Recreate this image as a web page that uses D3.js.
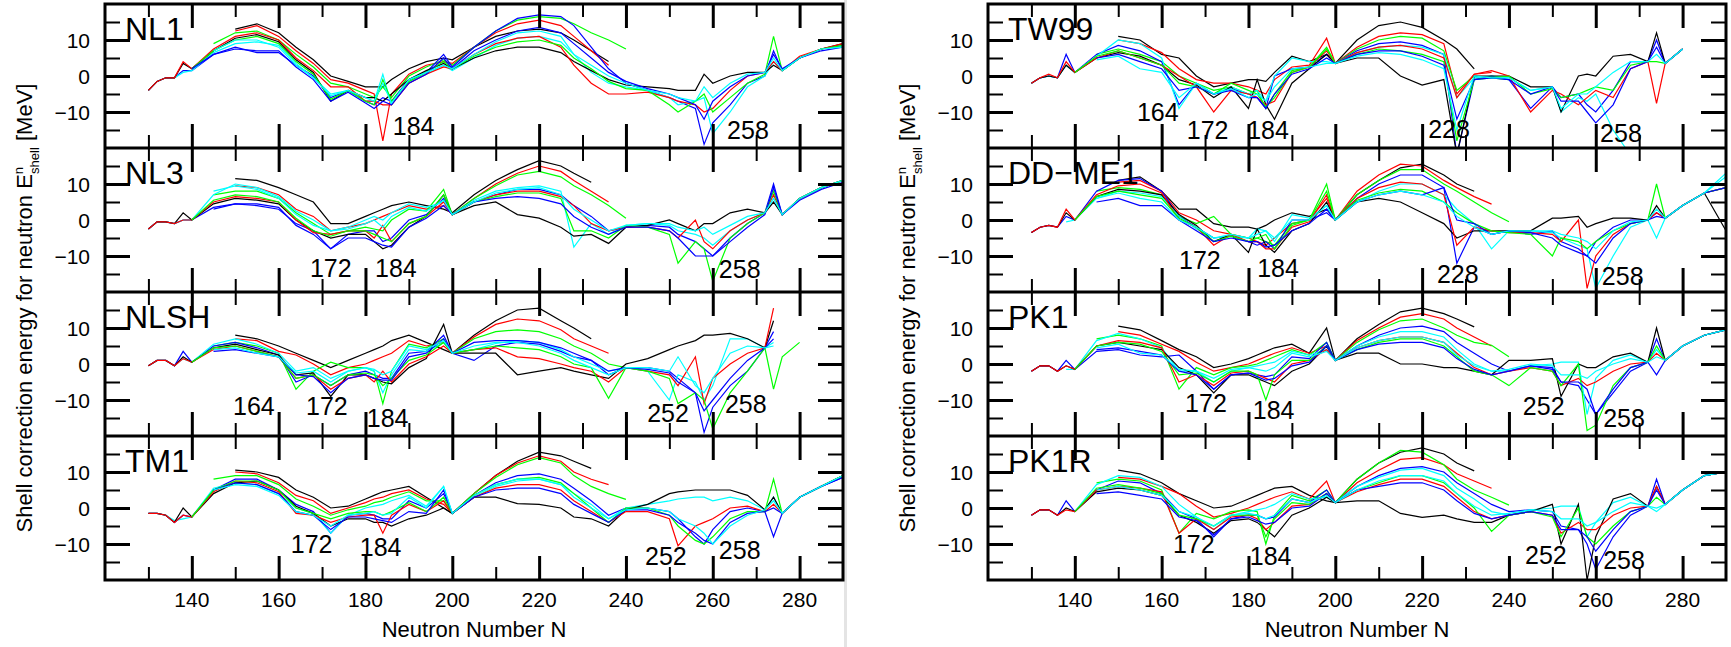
<!DOCTYPE html>
<html><head><meta charset="utf-8">
<script src="https://cdn.jsdelivr.net/npm/d3@7"></script>
<style>
body{margin:0;background:#fff}
text{font-family:"Liberation Sans",Arial,Helvetica,sans-serif;fill:#000}
</style>
</head><body>
<svg id="chart" width="1731" height="647"></svg>
<script>
const n = null;
// Neutron numbers shared by every isotopic chain
const neutronN = [130,132,134,136,138,140, 145,150,155,160,164,168, 172,176,180,182,184,186, 190,194,198,200, 205,210,215,220,225,228, 232,236,240,245,250,252, 256,258,260,264,268,272, 274,276,280,285,290];

const panelNames = ["NL1","NL3","NLSH","TM1","TW99","DD\u2212ME1","PK1","PK1R"];
const chainColors = ["#000000","#ff0000","#00ff00","#0000ff","#00ffff"];

const NL1 = [
[n,n,n,n,n,n, n,13,14.5,12,8,4.5, 0,-1.5,-3,-3,-3,-1, 2,4,5,4.5, 8,11,12.5,13,12,10, 7,4,n,n,n,n, n,n,n,n,n,n, n,n,n,n,n],
[n,n,n,n,n,n, n,12.5,14,11,7,3.5, -1,-2,-4,-5,-18,-5, 0.5,3,4,3.5, 8,12,14.5,15.5,14,11, 7,3,n,n,n,n, n,n,n,n,n,n, n,n,n,n,n],
[n,n,n,n,n,n, 9,12,12.5,10,6,2.5, -2,-3,-5,-6,-3,-6, 0,2.5,4.5,3, 8,12.5,15.5,16.5,16,14.5, 12,10,7.5,n,n,n, n,n,n,n,n,n, n,n,n,n,n],
[-4,-1.5,-0.5,-0.5,1.5,1.5, 6,8,6.5,6.5,3,0, -6,-4,-7,-8,-6,-7, -1,1,6,2.5, 8,12.5,16,17,16.5,14, 8,2,-2,-4,-6,-7, -9,-19,-13,-8,-2,0, 7,1.5,5,7.5,8.5],
[-4,-1.5,-0.5,-0.5,1,1.5, 6.5,9,9.5,8.5,3.5,-0.5, -5,-4,-7,-7,0.5,-8, -1.5,0.5,3,1.5, 5,8.5,10.5,11,9.5,6, 1,-2,-3,-4,-6,-8, -7,-6,-16,-10,-3,0, 4,1.5,5,7.5,8.5],
[-4,-1.5,-0.5,-0.5,3.5,2, 7,10.5,11.5,9.5,4.5,1, -7,-4,-6,-6,-7,-5, -1,1.5,3.5,2, 5,7,8,8,6.5,4, 1.5,-1,-2.5,-3,-3.5,-4, -4,0.5,-2,0,1,1, 3,1.5,5,7.5,9],
[-4,-1.5,-0.5,-0.5,4,2, 7.5,11,12,10,5,1.5, -3,-3,-7,-7,-8,-8, -2,0.5,2.5,2, 6,9,10.5,11,8,3, -2,-5,-5,-4.5,-6,-7, -8,-10,-9,-4,0,1, 4,1.5,5.5,7.5,9],
[n,n,n,n,n,2, 7,10,11,9,4,0.5, -6.5,-4,-7,-8,-1,-7, -1.5,1,4,2, 5.5,8,9.5,10,8.5,5, 2,-1.5,-3.5,-4,-8,-10, -7,-5,-10,-6,-2,0.5, 11,1.5,5,7.5,8.5],
[n,n,n,n,n,2, 6,7.5,7,7,2.5,-1, -7,-4.5,-7.5,-9,-7,-8, -2,0.5,5,2, 7,10,12.5,13.5,12,9, 5,1,-1.5,-3.5,-5,-6, -8,-12,-7,-3,0,1, 6,2,5,7,8],
[n,n,n,n,n,n, 7,10,10,8,3,-0.5, -5.5,-4,-6,-7,-2,-7.5, -1,1,3,2, 6,9.5,12,12.5,11,6, 3,0,-2,-4,-5,-6, -7,-3,-6,-2,0.5,1, 5,1.5,5,7.5,8]
];
const NL3 = [
[n,n,n,n,n,n, n,11.5,11,9,7,5, -1,-1,1,2,3,4, 5,4,3,2, 7,11,14,16.5,15,13, 10.5,n,n,n,n,n, n,n,n,n,n,n, n,n,n,n,n],
[n,n,n,n,n,n, n,9.5,9,7,3,1, -3,-2,-1,0,1,2, 4,3,4,1.5, 6,10,13,15,13.5,11, 8,5,n,n,n,n, n,n,n,n,n,n, n,n,n,n,n],
[n,n,n,n,n,n, 7,8,8,6,2,-1, -4,-3,-2,-2.5,-3,0, 3,2.5,8.5,1.5, 6,9.5,12.5,13.5,12,9.5, 7,4,0.5,n,n,n, n,n,n,n,n,n, n,n,n,n,n],
[-2.5,-0.5,-0.5,-1,0,0, 3.5,4.5,4,3,-1,-3, -8,-4,-3,-3,-6,-5, 0,1.5,6,1.5, 5,7,8.5,8.5,7,4, 1,-3,-2,-1.5,-2,-4, -6,-8,-10,-5,-1,2, 10,1.5,6,9,11],
[-2.5,-0.5,-0.5,-1,0,0, 7,10,9,6.5,2.5,0, -3,-2,0,1,0,2, 4.5,3.5,5,1.5, 5.5,8,9,9.5,8,-7.5, -1,-4,-1.5,-1,-1.5,-3, -4,-5,-7,-3,0,2, 6,1.5,6,9,11],
[-2.5,-0.5,-0.5,-1,2,0, 4.5,6,5.5,4.5,0,-3, -5,-4,-4,-6,-8,-7, -2,1,7,1.5, 4,5,1.5,0.5,-2,-4.5, -4,-6.5,-2,-1.5,0,-1, -3,-1,-1,2,3,2, 5,1.5,6,9,11],
[-2.5,-0.5,-0.5,-1,0,0, 5,6.5,6,5,0,-3.5, -4,-3,-3,-5,-1.5,-6, -1,1,5,1.5, 5,7,8,8,6.5,4, -1,-3,-2,-2,-3,-5, 0,-6,-8,-3,0,2, 7,1.5,6,9,11],
[n,n,n,n,n,0, 5.5,7,6.5,5,0.5,-3, -4.5,-3,-3,-4,-5,-6, -1,1,7,1.5, 5,6.5,7.5,7.5,6,-3, -3,-5,-1.5,-2,-4,-12, -6,-8,-17,-5,-1,2, 8,1.5,6,9,11],
[n,n,n,n,n,n, 3,4.5,4.5,3.5,-1.5,-4, -8,-5,-5,-6,-7,-7.5, -2,0.5,4,1.5, 5,6,6.5,6,4.5,1, -2,-4,-2,-2,-3,-5, -10,-10,-10,-6,-2,1.5, 9,1.5,5.5,8.5,10.5],
[n,n,n,n,n,n, 8,9.5,8.5,6,1.5,-1.5, -3,-2.5,-1,0,-2,1, 3.5,2.5,5.5,1.5, 5,7.5,8.5,9,7,3, 0,-3,-1.5,-1,-1,-2, -3,-2,-4,-1.5,1,2, 6,1.5,6,9,11]
];
const NLSH = [
[n,n,n,n,n,n, n,8,7,5,3,1, -1,1,3,4,5,6.5, 8,6,4,3, 8,12,15,15.5,12,10, 7,n,n,n,n,n, n,n,n,n,n,n, n,n,n,n,n],
[n,n,n,n,n,n, n,7,6.5,3.5,2.5,0, -3,-1,0,1,2,3, 6.5,5,6,3, 7.5,11,12.5,12,9.5,7, 5,3,n,n,n,n, n,n,n,n,n,n, n,n,n,n,n],
[n,n,n,n,n,n, 5,6,5,3,-7,-2, 0.5,-1,-1,-2,-11,-2, 5.5,4.5,7,3, 7,9,9.5,9,7,5, 3,0,-1,n,n,n, n,n,n,n,n,n, n,n,n,n,n],
[-0.5,1,1,-0.5,3.5,0.5, 5,6,4.5,2.5,-5,-3, -6,-3,-2,-3,-4,-4, 3,3.5,8,3, 1,5,6,5.5,3.5,2, 1,-3,-1,-1,-2,-4, -8,-19,-12,-6,-2,4.5, 9,n,n,n,n],
[-0.5,1,1,-0.5,1.5,0.5, 5.5,7,5.5,3,-2,-1, -4,-2,-1,-2,-8,-3, 4,3.5,6,3, 4,5.7,6.5,6,4,2, 0,-2,-1,-2,-10,-3, -5,-10,-6,7,7,4.5, 6,n,n,n,n],
[-0.5,1,1,-0.5,2,0.5, 4.5,5.5,4,2.5,-3,-2.5, -9,-3,-3,-4,-5,-5.5, -1,1.5,11,3, 3,3,-3,-2,-1,-2, -3,-4,0,1.5,4,5, 6.5,8,8,8.5,7,4.5, 12,n,n,n,n],
[-0.5,1,1,-0.5,1.5,0.5, 4,5,3.5,2,-4,-3, -7,-4,-3,-5,-2,-5, 0,2,5,3, 4,4.5,2,1.5,0,-1, -2,-5,-1,-2,-3,-6, 2,-11,-4,0,3,4.5, 15.5,n,n,n,n],
[n,n,n,n,n,0.5, 4.5,5,3.5,2,-4,-3, -6,-3,-2.5,-3,-6,-4, 1,2.5,6,3, 4,5,4.5,4,2,0, -1,-9.5,-1,-2,-4,-11, -8,-10,-18,-8,-2,4.5, -7,2,6,n,n],
[n,n,n,n,n,n, 3.5,4,3,2,-3,-3.5, -8,-4,-3,-4,-4.5,-4.5, 2,3,7,3, 6,6.5,6.5,6,4.5,3, 1,-2,-1,-1.5,-2.5,-5, -8,-13,-10,-4,1,4.5, 7,n,n,n,n],
[n,n,n,n,n,n, 4,4.5,3,2,-2.5,-2, -5,-2,-1,-1.5,-3,-2, 5,4,6.5,3, 5,6,6,5,3,1, -1,-3,-1,-1,-2,2, -6,-8,-4,3,5,4.5, 5,n,n,n,n]
];
const TM1 = [
[n,n,n,n,n,n, n,10.5,10,8.5,5,3, 0,0.5,2.5,3.5,4.5,5, 6,3,0,-1.5, 4,9,13,15.5,14.5,13, 11,n,n,n,n,n, n,n,n,n,n,n, n,n,n,n,n],
[n,n,n,n,n,n, n,10,9.5,7,3.5,2, -1.5,0,1.5,2.5,3,4, 5,2.5,1,-1.5, 4,9,12.5,14.5,13,10, 8,6.5,n,n,n,n, n,n,n,n,n,n, n,n,n,n,n],
[n,n,n,n,n,n, 8,9,9,6.5,2.5,0.5, -2,-0.5,0.5,1.5,2,3, 4.5,2,2,-1.5, 4,8.5,12,14,12.5,9, 6,4,2.4,n,n,n, n,n,n,n,n,n, n,n,n,n,n],
[-1.5,-1.5,-2,-4,-2,-2.5, 5,8,8,5,1,-1, -7,-2,-1.5,-2,-3,-3, 2,0,4,-1.5, 3.5,7,9,9.5,8,5.5, 2,-2,0,0,-1,-3, -8,-10,-6,-1,0,-1, -8,-1.5,3,6,8.5],
[-1.5,-1.5,-2,-3.5,-3,-2.5, 5.5,7,6.5,4,0,-1.5, -7,-2,0,0.5,1,2, 3.5,0.5,6,-1.5, 3,6,7.5,8,6.5,4, 1,-3,0,1,2,2.5, 3,3,2,3,2,-0.5, 3,-1.5,3,6,9],
[-1.5,-1.5,-2,-4,0,-2.5, 4,7,7.5,5,0.5,-1.5, -5,-3,-3,-4,-4,-5, -3,-2,0,-1.5, 3,3,1.2,1,0,-2.5, -3,-5,-0.5,1,4,4.5, 5,5,5,5,3.5,-0.5, 3,-1.5,3,6,9],
[-1.5,-1.5,-2,-4,-2,-2.5, 4.5,7.5,7,4.5,-1.5,-2, -4,-2.5,-2,-2,-7,-2, 1,-1,2,-1.5, 3,5.5,6.5,6.5,5,2, -1,-4,-1,-1,-3,-10.5, -5,-4,-3,0,0.5,-1, 1,-1.5,3,6,9],
[n,n,n,n,n,-2.5, 5,7.5,7.5,5,0,-1.5, -3,-1.5,-1,-1,-2,-1, 1.5,-1,3,-1.5, 3.5,6.5,8,8.5,7,4, 0,-4,0,0,-2,-5, -9,-10,-8,-3,-1,-1, 8,-1.5,3,6,9],
[n,n,n,n,n,n, 5,7,6.5,4,-1,-2, -6,-2.5,-2.5,-3,-3.5,-4, -1,-1.5,5,-1.5, 3,5,5.5,5.5,4,1, -1.5,-4,-0.5,-0.5,-2,-4, -7,-9,-10,-4,-1.5,-1, 0,-1.5,3,6,8.5],
[n,n,n,n,n,n, 5,6.5,6,3.5,-1,-2, -5,-2,-1.5,-1,-2,-1.5, 3,0,6,-1.5, 3.5,6.5,8,8,6.5,3, 0,-3,-0.5,0,-1,-3, -5,-7,-10,-5,-2,-0.5, 2,-1.5,3,6,9]
];
const TW99 = [
[n,n,n,n,n,n, n,11,10,6,5,0, -3,-2,-1,-1,-1.5,1, 5.5,4,6,3.5, 10,14,15,13.5,10,7.5, 2,n,n,n,n,n, n,n,n,n,n,n, n,n,n,n,n],
[n,n,n,n,n,n, n,10,9,6.5,2,-1, -2,-2,-3,-4,-5,-1, 2.5,3,10.5,3.5, 8,11,12,11.5,9,-5, 0.5,1,n,n,n,n, n,n,n,n,n,n, n,n,n,n,n],
[n,n,n,n,n,n, 6,7.5,6,4,0,-2, -4,-3,-5,-4,-9,-5, 1.5,2.5,8,3.5, 7.5,10,11,10.5,7,-4, 0,-0.5,-1,n,n,n, n,n,n,n,n,n, n,n,n,n,n],
[-2,-0.5,0,-0.5,6,1, 6,8.5,7,4,-8,-2, -5,-3.5,-5,-6,-9,0, 2,2.5,6,3.5, 7,9,9.5,8.5,6,-22, -1,0,-1,-9,-3,-6, -5,-8,-10,-4,4,4, 10,3.5,7.5,n,n],
[-2,-0.5,0,-0.5,3,1, 5.5,10,9,5,-9,-2, -5,-3,-5,-4,-7,0, 5,4,4,3.5, 6.5,8,8.5,8,6,-6, -0.5,0,-0.5,-4,-3,-10, -6,-7,-5,-15,-22,n, n,n,n,n,n],
[-2,-0.5,0,-0.5,3,1, 5,6.5,5.5,3,-1,-2.5, -6,-3,-9,-1,-8,-12, -2,2,6,3.5, 5,5,0,-2.5,-1,-22, 0,0,0,-3,-3,-10, 0,0.5,0,5.5,6,4, 12,3.5,7.5,n,n],
[-2,-0.5,0.5,-0.5,4,1, 5,7,5,3,0,-3, -10,-4,-5,-6,-8,-7, 1,2.5,7,3.5, 6.5,8,8.5,7.5,5,-6, 0.5,1.5,0,-10,-4,-5, -8,-6,-4,-6,2,4, -7.6,3.5,7.5,n,n],
[n,n,n,n,n,1, 5.5,7,5,3,-2,-3, -5,-2,-4,-5,-8.5,-6, 1,2.5,7.5,3.5, 6,7.5,7,6,4,-18, -1,-0.5,0,-5,-3.5,-6, -5,-4,-3,-4,3,4, 4,3.5,7.5,n,n],
[n,n,n,n,n,n, 5,6,4,2,-4,-3, -5,-4,-6,-6,-9,-5, 0.5,2,5,3.5, 6,7,7,5.5,3,-12, -1,-0.5,-1,-5,-3,-7, -7,-10,-13,-8,2,4, 8,3.5,7.5,n,n],
[n,n,n,n,n,n, 4.5,5.5,2,1,-6,-2, -5,-3.5,-6,-5,-7,-3, 2,2.5,3.5,3.5, 5.5,6.5,6,4.5,2,-15, 0,-0.5,-0.5,-4,-3,-9, -5,-5,-3,1,4,4, 6,3.5,7.5,n,n]
];
const DDME1 = [
[n,n,n,n,n,n, n,11,12,8,3,3, -1,-2,-2,-2.5,-1.5,0, 2,1,3,0, 7,11,14.5,15.5,12.5,10, 8,n,n,n,n,n, n,n,n,n,n,n, n,n,n,n,n],
[n,n,n,n,n,n, n,10.5,11,8,2,0, -3,-4,-5,-6,-7,-5, -1,0,6,0, 8,12.5,15.5,15,11,9, 6.5,4.4,n,n,n,n, n,n,n,n,n,n, n,n,n,n,n],
[n,n,n,n,n,n, 8,9,8.5,7,1,-1, 1,-4,-5,-5,-6,-7, -1,0,10,0, 7,11,14,14,10,8, 5,2,-0.5,n,n,n, n,n,n,n,n,n, n,n,n,n,n],
[-3.5,-2,-1.5,-2,1,0, 8,11,11.5,8,1,-2, -5,-4.5,-6,-7,-6,-8, 0,0,2,0, 6,10,12.5,12.5,9,-12, -2,-4,-3,-4,-3,-6, -8,-10,-6,-2,0,0, 2,0.5,4,7.5,9],
[n,n,n,n,-0.5,0, 6,8,7.5,6.5,1,-2.5, -5,-4.5,-5,-2.5,-3,-6, 1.5,0.5,4,0, 5,8,10,10,7,3, -1,-8,-3,-3,-3.5,-5, -7,-8,-19,-10,-2,0, -5,0.5,4,7.5,13],
[-3.5,-2,-1.5,-2,2,0, 6.5,8.5,8,7,1.5,-1.5, -6,-4,-9,-2.5,-7,-9, -3,-1,5,0, 5,6,5,2,-1,-5, -3,-3,-3,-3,0.5,0.5, 1,-2,-1,0.5,0.5,0, 4,0.5,4,7.5,-3],
[-3.5,-2,-1.5,-2,3,0, 7,9.5,10,7.5,0,-2, -7,-4,-6,-6,-8,-8, -2,-0.5,7,0, 6,9,10.5,10,7,-7, -2,-3,-3.5,-3.5,-4,-6, 0,-19,-10,-4,-1,0, 2,0.5,4,7.5,9],
[n,n,n,n,n,0, 6.5,8,7,6,0.5,-2, -6,-4.5,-6,-5,-4,-8, -1.5,0,8,0, 5.5,7.5,8.5,8,5,2, -1,-3,-3.5,-4,-10,-5, -6,-8,-6,-3,-1,0, 10,0.5,4,7.5,9],
[n,n,n,n,n,n, 5,6,4,4,0,-3, -6,-5,-6,-6,-7.5,-7, -3,-1,3,0, 5,7,8,7,9,0, -1,-4,-3,-3.5,-5,-7, -9,-10,-12,-5,-1,0, 1,0.5,4,7.5,9],
[n,n,n,n,n,n, 6,7.5,6,5,0,-2, -5,-4,-5,-4,-3,-5, 0,0,4,0, 5,7,8,7,5,1, -2,-4,-3,-3,-3,-4, -5,-6,-8,-3,-0.5,0, 3,0.5,4,7.5,12]
];
const PK1 = [
[n,n,n,n,n,n, n,10.5,9.5,6.5,4,2, -1,0,1.5,2.5,3.5,4.5, 5.5,3,10,1, 7,11,14.5,15.5,14,12.5, 10.3,n,n,n,n,n, n,n,n,n,n,n, n,n,n,n,n],
[n,n,n,n,n,n, n,9,8,5.5,3.5,0.5, -2,-1,0,1,2,3, 4.5,3,5,1, 6.5,10,13,14,12.5,10, 7.5,5,n,n,n,n, n,n,n,n,n,n, n,n,n,n,n],
[n,n,n,n,n,n, 7,8,7,5,-7,-1, -3,-1,-0.5,0,1,2, 4,2.5,6,1, 6,9.5,12,12.5,10,8, 6,5.2,2,n,n,n, n,n,n,n,n,n, n,n,n,n,n],
[-2,-0.5,-0.5,-2,1,-1.5, 3.5,4,2.5,2,2.5,-2, -7,-3,-2.5,-3,-3.5,-3, 2,1.5,6,1, 5,8,10,10.5,9,6, 3,0,-2,-0.5,-1,-5, -6,-10,-14,-8,-2,0.5, 7,1,5,8,9.5],
[n,n,n,n,-1.5,-1.5, 6.5,8.5,7,4.5,-2,-2, -5,-2,-1,-0.5,0,0.5, 3.5,2.5,4,1, 5,7.5,9,9,7.5,4, 0,-2,-2,-0.5,0,0.5, 0.5,-14,-4,1,2.5,0.5, 4,1,5,8,9.5],
[-2,-0.5,-0.5,-2,-0.5,-1.5, 5,6,5,4,-1,-3, -8,-3,-3,-4,-5,-6, -2,0,5,1, 3,3,0,0,-1,-1, -2,-3,1,1,1.5,-9, 0,-1,-1,2,3,0.5, 10,1,5,8,9.5],
[-2,-0.5,-0.5,-2,-0.5,-1.5, 5,6.5,6,4.5,-5,-3, -6,-2.5,-2,-3,-4,-5, 0,1,4,1, 4.5,6.5,7.5,7.5,6,3, -1,-3,-2,-1,-2,-6, -4,-6,-5,-2,0,0.5, 3,1,5,8,9.5],
[n,n,n,n,n,-1.5, 5,6,5.5,3.5,-3,-2.5, -5,-2,-2,-3,-10,-3, 1,1,5,1, 4,6,7,7,5,2, -2,-3,-6,-1,-2,-6, 0,-18.5,-17,-6,-1,0.5, 5,1,5,8,9.5],
[n,n,n,n,n,n, 4,4.5,3.5,2.5,-2,-3, -7,-3,-2.5,-3.5,-4.5,-4, -0.5,0.5,5,1, 4,5.5,6,6,4.5,1.5, -1.5,-3,-2,-0.5,-1.5,-5, -5,-7,-14,-7,-1,0.5, -3,1,5,8,9.5],
[n,n,n,n,n,n, 4.5,5.5,3,2.5,-1.5,-2, -4,-1.5,-1,-1.5,-2,-1, 3,2,3.5,1, 4.5,6.5,7.5,7.5,6,2.5, -0.5,-2,-1.5,0,-0.5,-3, -3,-4,-2,0,1.5,0.5, 2,1,5,8,9.5]
];
const PK1R = [
[n,n,n,n,n,n, n,10.5,9.5,7,4,2, 0,0.5,2.5,3.5,4.5,5.5, 6,3.5,2,1.5, 8,12.5,15.5,16.7,15,12.5, 10.3,n,n,n,n,n, n,n,n,n,n,n, n,n,n,n,n],
[n,n,n,n,n,n, n,8.5,8,6,4,0.5, -2.5,-1.5,0,1,2,3, 4.5,2.5,7.5,1.5, 7,10.5,13.5,14,12,9.5, 7.5,5.5,n,n,n,n, n,n,n,n,n,n, n,n,n,n,n],
[n,n,n,n,n,n, 7,8,7.5,5,-7,-1.5, -3,-1,-0.5,-1,-10,-2, 3.5,2,5,1.5, 8,12.5,16,15.5,12,8, 5,3,0.8,n,n,n, n,n,n,n,n,n, n,n,n,n,n],
[-2,-0.5,-0.5,-2,2,-1, 5,7.5,7,4,-1,-3, -8,-3,-2,-2,-3,-2.5, 2.5,1.5,5,1.5, 6,9,11,11.5,10,7, 4,1,-1,-0.5,-1,-5, -6,-10,-17,-8,-2,0.5, 8,1,5,9,10],
[n,n,n,n,n,-1, 6.5,9,8.5,6,1,-2.5, -6,-2,-1,-0.5,0,1, 4,2.5,3,1.5, 6,8.5,10.5,11,9,5.5, 2.5,-1,-2,-0.5,0,0.5, 0.5,-8,-4,1.5,3,0.5, -1,1,5,9,10],
[-2,-0.5,-0.5,-2,0,-1, 4.5,5.5,5,3.5,-2,-4, -7,-3.5,-3,-4,-6,-8, -2,0,3,1.5, 2,2,-1.5,-2.6,-2,-3, -4,-4,-2,-1,1,-10, 1,-20,-8,2.5,4,0.5, 6,1,5,9,10],
[-2,-0.5,-0.5,-2,-0.5,-1, 5,6,5.5,4.5,-7,-3, -6,-2.5,-2,-3,-6,-4, 0.5,1,4,1.5, 4.5,6.5,8,8,6,3, -1,-3,-2,-1,-2,-7, -4,-6,-6,-2,0,0.5, 6,1,5,9,10],
[n,n,n,n,n,-1, 5.5,6.5,5.5,4,-2,-3, -5,-2,-2,-2,-8,-3, 1.5,1,4,1.5, 5,7,9,9,7,4, 0,-6.5,-2,-1,-2.5,-8, 0,-8,-10,-5,-1,0.5, 3,1,5,9,10],
[n,n,n,n,n,n, 4,4.5,3.5,2.5,-2.5,-3.5, -7.5,-3,-2.5,-3.5,-4.5,-4, 0,0.5,4,1.5, 5,6,7,7,5,2, -1.5,-3,-2,-1,-2,-6, -6,-8,-12,-6,-1,0.5, 5,1,5,9,10],
[n,n,n,n,n,n, 5,6,5,3.5,-1,-2.5, -5,-2,-1.5,-2,-3,-2, 2.5,1.5,3.5,1.5, 5,7.5,9,9,7.5,4, 0.5,-2,-1.5,-0.5,-1,-3, -3,-5,-4,-1,1.5,0.5, 0,1,5,9,10]
];
const panelData = [NL1, NL3, NLSH, TM1, TW99, DDME1, PK1, PK1R];

const xMajorTicks = [140,160,180,200,220,240,260,280];
const xMinorTicks = [130,150,170,190,210,230,250,270];
const yMajorTicks = [10,0,-10];
const yMinorTicks = [15,5,-5,-15];
const yTickText = ["10","0","\u221210"];

// magic-number annotations: [panel, text, N, E]
const annotations = [
[0,"184",186.3,-16.4],[0,"258",263.3,-17.5],
[1,"172",167.2,-15.8],[1,"184",182.2,-15.8],[1,"258",261.4,-16.1],
[2,"164",149.5,-14.2],[2,"172",166.3,-14.2],[2,"184",180.3,-17.5],[2,"252",244.9,-16.1],[2,"258",262.8,-13.6],
[3,"172",162.8,-12.5],[3,"184",178.7,-13.3],[3,"252",244.4,-15.8],[3,"258",261.4,-14.2],
[4,"164",154.3,-12.5],[4,"172",165.8,-17.5],[4,"184",179.7,-17.5],[4,"228",221.4,-17.3],[4,"258",261,-18.3],
[5,"172",164,-13.6],[5,"184",182,-15.8],[5,"228",223.4,-17.5],[5,"258",261.4,-18.1],
[6,"172",165.4,-13.3],[6,"184",181,-15.3],[6,"252",243.2,-14.2],[6,"258",261.7,-17.5],
[7,"172",162.6,-12.5],[7,"184",180.3,-15.8],[7,"252",243.7,-15.6],[7,"258",261.7,-16.9]
];

panelData.forEach((p,i)=>p.forEach((c,j)=>{ if(c.length!==neutronN.length) throw new Error("bad length panel "+i+" curve "+j+": "+c.length); }));

// ---------- layout ----------
const svg = d3.select("#chart");
svg.append("rect").attr("width",1731).attr("height",647).attr("fill","#fff");
const cols = [{x0:105,x1:843},{x0:988,x1:1726}];
const top0 = 4, ph = 144;

svg.append("rect").attr("x",844).attr("y",0).attr("width",3).attr("height",647).attr("fill","#e4e4e4");

panelData.forEach((curves, pi) => {
  const col = cols[Math.floor(pi/4)];
  const row = pi % 4;
  const top = top0 + row*ph;
  const x = d3.scaleLinear().domain([120,290]).range([col.x0,col.x1]);
  const y = d3.scaleLinear().domain([-20,20]).range([top+ph, top]);
  const g = svg.append("g");
  const cid = "clip"+pi;
  svg.append("clipPath").attr("id",cid).append("rect")
    .attr("x",col.x0).attr("y",top).attr("width",col.x1-col.x0).attr("height",ph);
  const line = d3.line().defined(d=>d[1]!=null).x(d=>x(d[0])).y(d=>y(d[1]));
  const cg = g.append("g").attr("clip-path",`url(#${cid})`);
  curves.forEach((c,ci)=>{
    const pts = neutronN.map((nn,k)=>[nn,c[k]]);
    cg.append("path").attr("d",line(pts)).attr("fill","none")
      .attr("stroke",chainColors[ci%5]).attr("stroke-width",1.2).attr("stroke-linejoin","miter");
  });

  // ticks via d3 axes (inward)
  const mk = (axis, tr, vals, size, w) => {
    const a = g.append("g").attr("transform",tr).call(axis.tickValues(vals).tickSize(size).tickFormat(""));
    a.select(".domain").remove();
    a.selectAll("line").attr("stroke","#000").attr("stroke-width",w);
  };
  mk(d3.axisBottom(x), `translate(0,${top+ph})`, xMajorTicks, -24, 3);
  mk(d3.axisBottom(x), `translate(0,${top+ph})`, xMinorTicks, -13, 2);
  mk(d3.axisTop(x), `translate(0,${top})`, xMajorTicks, -24, 3);
  mk(d3.axisTop(x), `translate(0,${top})`, xMinorTicks, -13, 2);
  mk(d3.axisLeft(y), `translate(${col.x0},0)`, yMajorTicks, -25, 3);
  mk(d3.axisLeft(y), `translate(${col.x0},0)`, yMinorTicks, -15, 2);
  mk(d3.axisRight(y), `translate(${col.x1},0)`, yMajorTicks, -25, 3);
  mk(d3.axisRight(y), `translate(${col.x1},0)`, yMinorTicks, -15, 2);

  // y tick labels
  yMajorTicks.forEach((v,k)=>{
    g.append("text").attr("x",col.x0-15).attr("y",y(v)+7.5)
      .attr("text-anchor","end").attr("font-size",21).text(yTickText[k]);
  });
  // panel name
  g.append("text").attr("x",col.x0+20).attr("y",top+36).attr("font-size",32).text(panelNames[pi]);
  // annotations
  annotations.filter(a=>a[0]===pi).forEach(a=>{
    g.append("text").attr("x",x(a[2])).attr("y",y(a[3])).attr("font-size",25).text(a[1]);
  });
  // x tick labels on bottom row
  if(row===3){
    xMajorTicks.forEach(v=>{
      g.append("text").attr("x",x(v)).attr("y",top+ph+27).attr("text-anchor","middle")
        .attr("font-size",21).text(v);
    });
  }
});

// frames
cols.forEach(col=>{
  svg.append("rect").attr("x",col.x0).attr("y",top0).attr("width",col.x1-col.x0).attr("height",4*ph)
    .attr("fill","none").attr("stroke","#000").attr("stroke-width",3);
  for(let r=1;r<4;r++){
    svg.append("line").attr("x1",col.x0).attr("x2",col.x1).attr("y1",top0+r*ph).attr("y2",top0+r*ph)
      .attr("stroke","#000").attr("stroke-width",3);
  }
  svg.append("text").attr("x",(col.x0+col.x1)/2).attr("y",637).attr("text-anchor","middle")
    .attr("font-size",22).text("Neutron Number N");
  const ty = svg.append("text").attr("transform",`translate(${col.x0-73},308) rotate(-90)`)
    .attr("text-anchor","middle").attr("font-size",22);
  ty.append("tspan").text("Shell correction energy for neutron  E");
  ty.append("tspan").attr("font-size",13).attr("dy",-9).text("n");
  ty.append("tspan").attr("font-size",13).attr("dx",-7).attr("dy",16).text("shell");
  ty.append("tspan").attr("dy",-7).text(" [MeV]");
});
</script>
</body></html>
